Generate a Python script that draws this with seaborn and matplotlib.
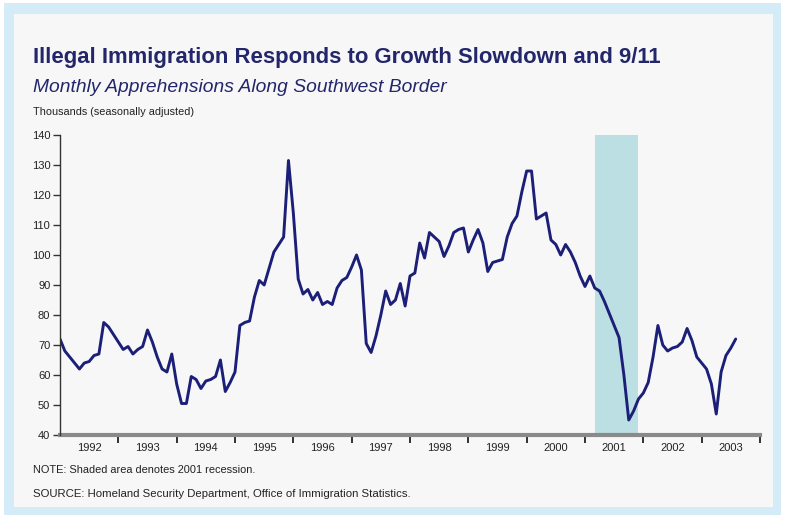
import numpy as np
import pandas as pd
import seaborn as sns
import matplotlib.pyplot as plt
from matplotlib.patches import Rectangle

# Monthly apprehensions along the southwest border, thousands, Jan 1992 - Aug 2003
apprehensions = [
    # 1992
    72, 68, 66, 64, 62, 64, 64.5, 66.5, 67, 77.5, 76, 73.5,
    # 1993
    71, 68.5, 69.5, 67, 68.5, 69.5, 75, 71, 66, 62, 61, 67,
    # 1994
    57, 50.5, 50.5, 59.5, 58.5, 55.5, 58, 58.5, 59.5, 65, 54.5, 57.5,
    # 1995
    61, 76.5, 77.5, 78, 86, 91.5, 90, 95.5, 101, 103.5, 106, 131.5,
    # 1996
    114, 92, 87, 88.5, 85, 87.5, 83.5, 84.5, 83.5, 89, 91.5, 92.5,
    # 1997
    96, 100, 95, 70.5, 67.5, 73, 80, 88, 83.5, 85, 90.5, 83,
    # 1998
    93, 94, 104, 99, 107.5, 106, 104.5, 99.5, 103, 107.5, 108.5, 109,
    # 1999
    101, 105, 108.5, 104, 94.5, 97.5, 98, 98.5, 106, 110.5, 113, 121,
    # 2000
    128, 128, 112, 113, 114, 105, 103.5, 100, 103.5, 101, 97.5, 93,
    # 2001
    89.5, 93, 89, 88, 84.5, 80.5, 76.5, 72.5, 60, 45, 48, 52,
    # 2002
    54, 57.5, 66, 76.5, 70, 68, 69, 69.5, 71, 75.5, 71.5, 66,
    # 2003
    64, 62, 57, 47, 61, 66.5, 69, 72,
]
start_year = 1992
years = list(range(1992, 2004))
recession = (2001 + 2 / 12, 2001 + 11 / 12)
y_ticks = list(range(40, 141, 10))

df = pd.DataFrame({
    "t": start_year + np.arange(len(apprehensions)) / 12,
    "value": apprehensions,
})

sns.set_theme(style="white")
plt.rcParams["font.family"] = ["Liberation Sans", "DejaVu Sans"]

W, H = 785, 518
fig = plt.figure(figsize=(W / 100, H / 100), dpi=100)
fig.patch.set_facecolor("white")

# light blue frame with off-white panel
fig.add_artist(Rectangle((4 / W, 3 / H), 777 / W, 512 / H, transform=fig.transFigure,
                         facecolor="#d4ecf7", edgecolor="none", zorder=-10))
fig.add_artist(Rectangle((14 / W, 11 / H), 759 / W, 493 / H, transform=fig.transFigure,
                         facecolor="#f7f7f7", edgecolor="none", zorder=-9))

ax = fig.add_axes([60 / W, 1 - 435 / H, 700 / W, 300 / H])
ax.set_facecolor("none")

ax.axvspan(*recession, ymin=0, ymax=1, color="#bcdfe3", zorder=1, lw=0)
sns.lineplot(data=df, x="t", y="value", ax=ax, color="#1c1f78", lw=2.1, zorder=3)

ax.set_xlim(1992, 2004)
ax.set_ylim(40, 140)
ax.set_xlabel("")
ax.set_ylabel("")

ax.set_yticks(y_ticks)
ax.set_yticklabels([str(v) for v in y_ticks], fontsize=8, color="#222222")
ax.set_xticks(list(range(1993, 2005)))
ax.set_xticklabels([])
ax.set_xticks([y + 0.5 for y in years], minor=True)
ax.set_xticklabels([str(y) for y in years], minor=True, fontsize=8, color="#222222")
ax.tick_params(axis="x", which="major", direction="out", length=6, width=1.3,
               color="#222222", bottom=True)
ax.tick_params(axis="x", which="minor", length=0, pad=6)
ax.tick_params(axis="y", direction="out", length=5, width=1.0, color="#333333",
               left=True, pad=2)

for side in ("top", "right"):
    ax.spines[side].set_visible(False)
ax.spines["left"].set_color("#333333")
ax.spines["left"].set_linewidth(1.0)
ax.spines["bottom"].set_color("#8a8a8a")
ax.spines["bottom"].set_linewidth(3.0)
ax.spines["left"].set_zorder(4)

fig.text(33 / W, 1 - 58 / H, "Illegal Immigration Responds to Growth Slowdown and 9/11",
         fontsize=15.9, weight="bold", color="#23266a", va="center", ha="left")
fig.text(33 / W, 1 - 87 / H, "Monthly Apprehensions Along Southwest Border",
         fontsize=13.9, style="italic", color="#23266a", va="center", ha="left")
fig.text(33 / W, 1 - 112 / H, "Thousands (seasonally adjusted)",
         fontsize=7.8, color="#222222", va="center", ha="left")
fig.text(33 / W, 1 - 470 / H, "NOTE: Shaded area denotes 2001 recession.",
         fontsize=7.9, color="#222222", va="center", ha="left")
fig.text(33 / W, 1 - 494 / H, "SOURCE: Homeland Security Department, Office of Immigration Statistics.",
         fontsize=8.2, color="#222222", va="center", ha="left")

fig.savefig("out.png", dpi=100)
